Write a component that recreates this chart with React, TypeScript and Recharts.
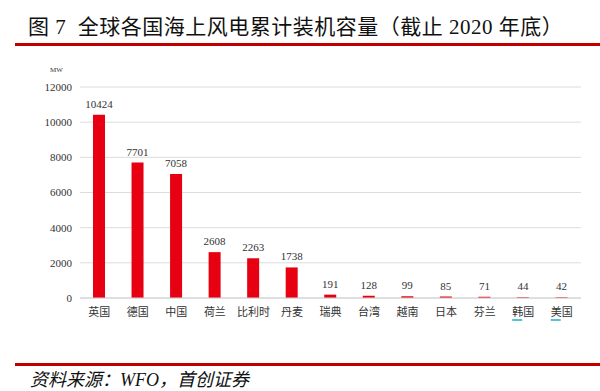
import React from "react";
import { BarChart, Bar, XAxis, YAxis, CartesianGrid, LabelList } from "recharts";

const countries = ["英国", "德国", "中国", "荷兰", "比利时", "丹麦", "瑞典", "台湾", "越南", "日本", "芬兰", "韩国", "美国"];
const capacity = [10424, 7701, 7058, 2608, 2263, 1738, 191, 128, 99, 85, 71, 44, 42];
const yTicks = [0, 2000, 4000, 6000, 8000, 10000, 12000];
// 原图里被拼写检查标了下划线的两个标签
const underlined = ["韩国", "美国"];

const data = countries.map((name, i) => ({ name, value: capacity[i] }));

const RED = "#e60012";
const serif = '"Liberation Serif", "Noto Sans CJK SC", serif';

function CountryTick(props: any) {
  const { x, y, payload } = props;
  const label: string = payload.value;
  const mark = underlined.includes(label);
  return (
    <g>
      <text x={x} y={y} dy={12} textAnchor="middle" fontSize={11} fill="#333" fontFamily={serif}>
        {label}
      </text>
      {mark && <line x1={x - 11} x2={x - 1} y1={y + 16} y2={y + 16} stroke="#1ab0c8" strokeWidth={1.5} />}
    </g>
  );
}

export default function App() {
  return (
    <div style={{ position: "absolute", left: 0, top: 0, width: 600, height: 391, background: "#fff", overflow: "hidden" }}>
      <div
        style={{
          position: "absolute",
          left: 28,
          top: 10,
          fontSize: 21,
          letterSpacing: 0.5,
          fontFamily: serif,
          color: "#111",
          whiteSpace: "nowrap",
        }}
      >
        图 7 &nbsp;全球各国海上风电累计装机容量（截止 2020 年底）
      </div>
      <div style={{ position: "absolute", left: 15, right: 0, top: 43, height: 2.5, background: "#c00000" }} />

      <BarChart width={600} height={391} data={data} margin={{ top: 87, right: 19, bottom: 63, left: 0 }}>
        <CartesianGrid vertical={false} stroke="#dcdcdc" />
        <YAxis
          width={80}
          domain={[0, 12000]}
          ticks={yTicks}
          axisLine={false}
          tickLine={false}
          tickSize={0}
          tickMargin={8}
          tick={{ fontSize: 11, fill: "#333", fontFamily: serif }}
        />
        <XAxis
          dataKey="name"
          height={30}
          axisLine={{ stroke: "#d0d0d0" }}
          tickLine={false}
          tickSize={0}
          tickMargin={6}
          interval={0}
          tick={<CountryTick />}
        />
        <Bar dataKey="value" fill={RED} barSize={12} isAnimationActive={false}>
          <LabelList dataKey="value" position="top" offset={7} fontSize={11} fill="#333" fontFamily={serif} />
        </Bar>
      </BarChart>

      <div style={{ position: "absolute", left: 50, top: 66, fontSize: 7, fontFamily: serif, color: "#333" }}>MW</div>

      <div style={{ position: "absolute", left: 15, right: 0, top: 363, height: 2.5, background: "#c00000" }} />
      <div
        style={{
          position: "absolute",
          left: 30,
          top: 365,
          fontSize: 18,
          fontStyle: "italic",
          fontFamily: serif,
          color: "#111",
          whiteSpace: "nowrap",
        }}
      >
        资料来源：WFO，首创证券
      </div>
    </div>
  );
}
